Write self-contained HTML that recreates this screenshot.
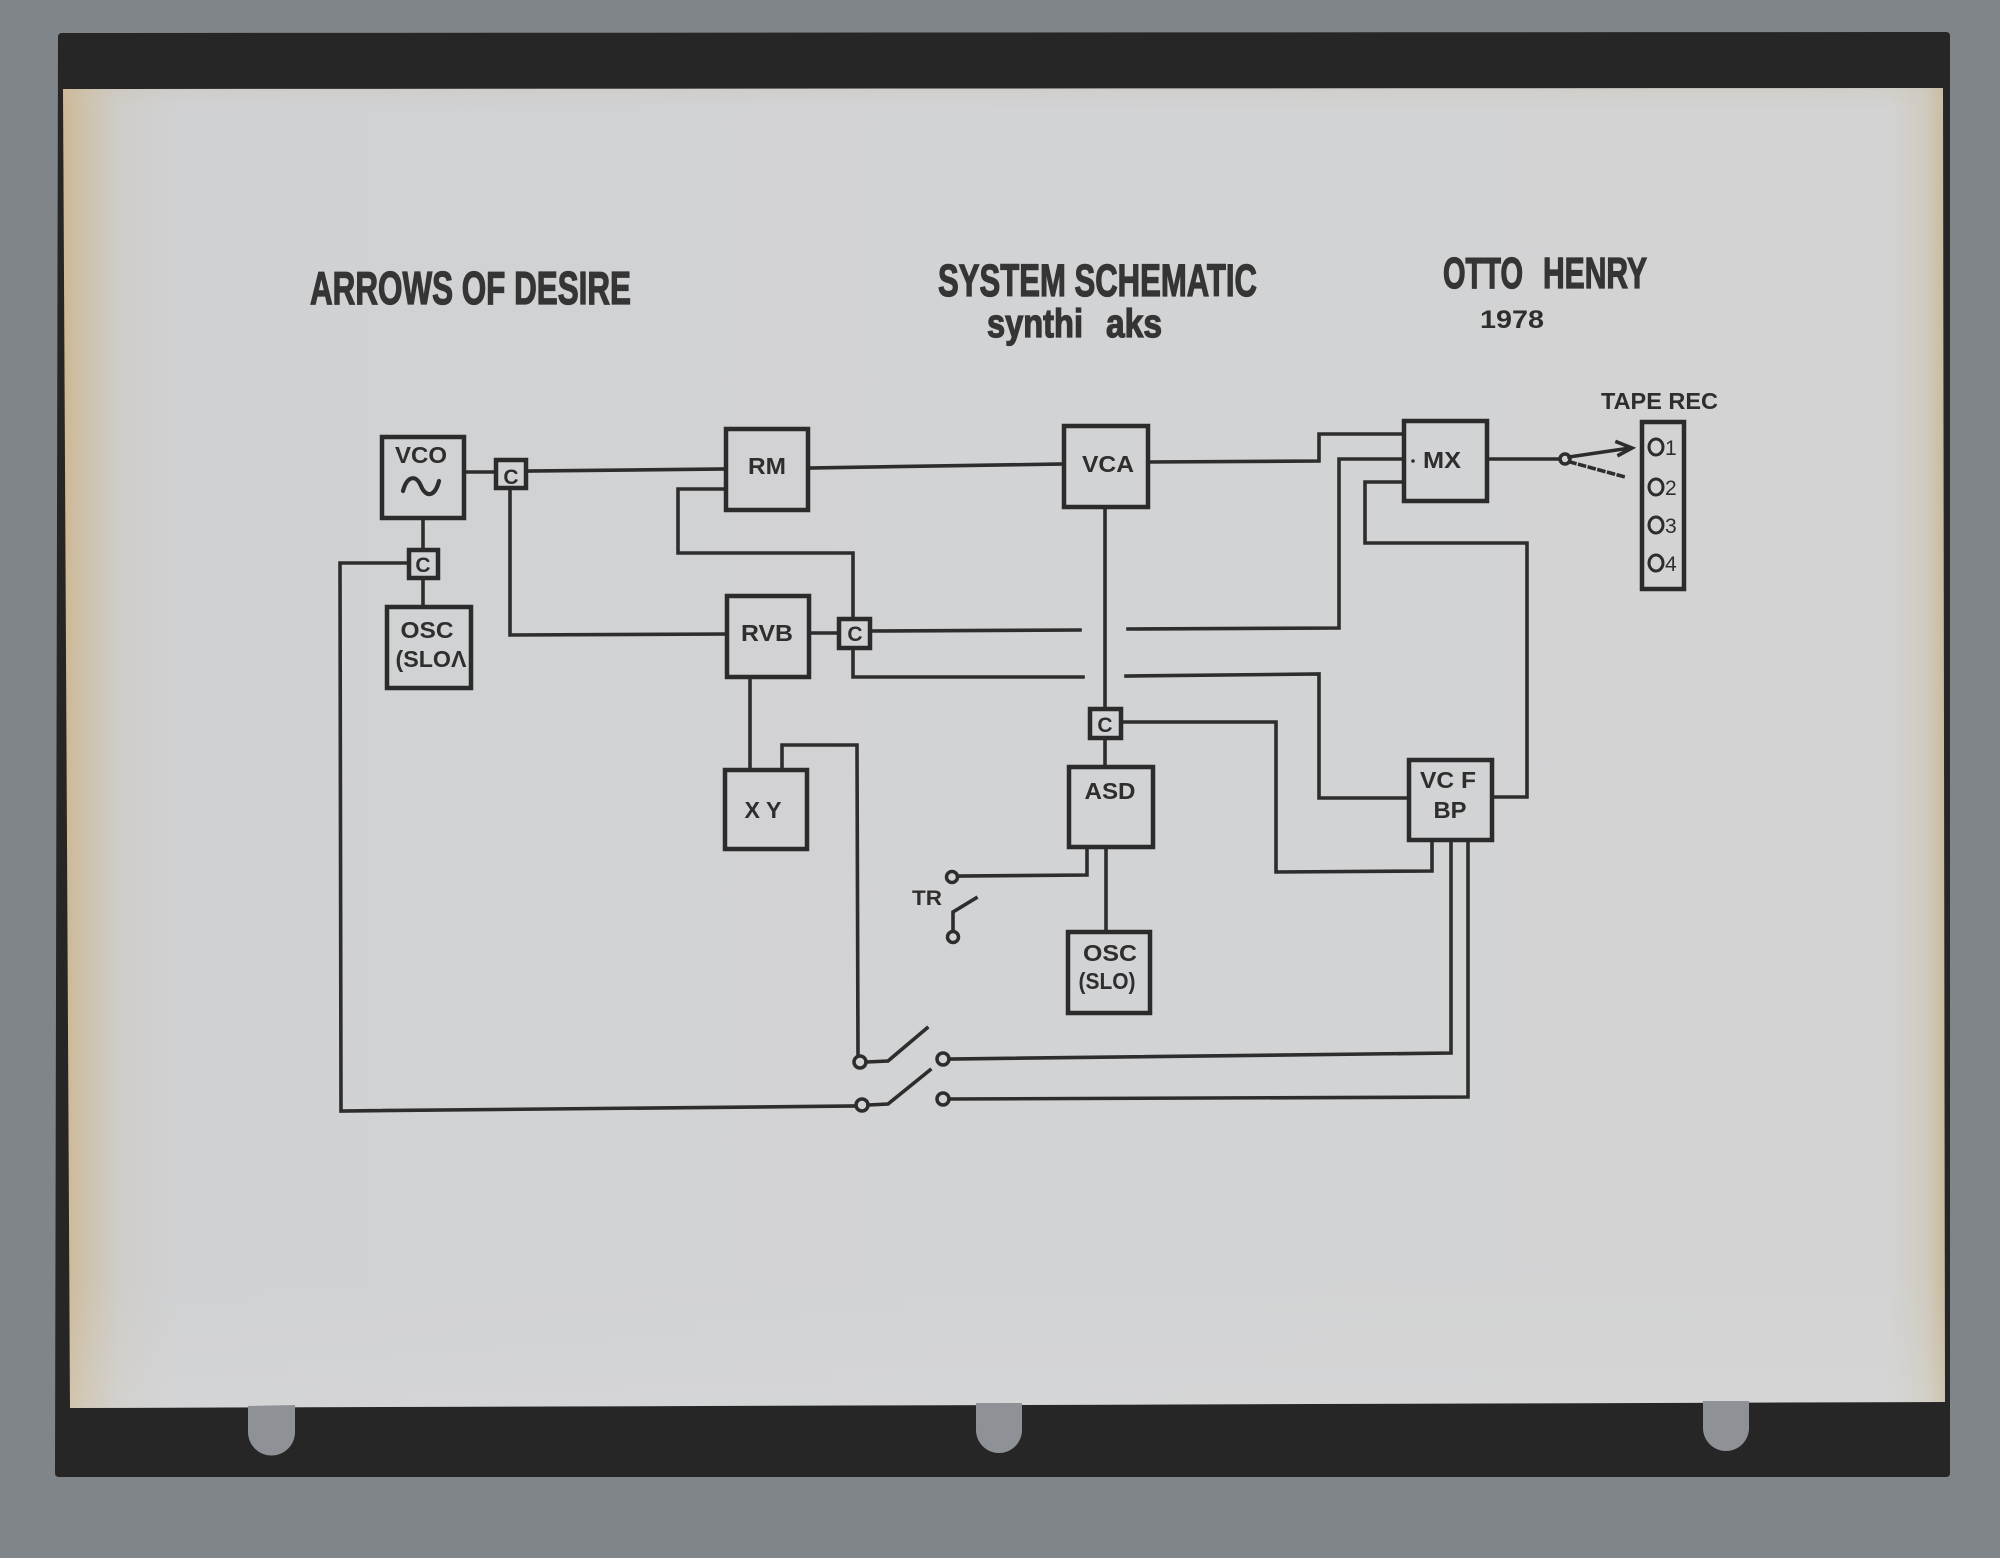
<!DOCTYPE html>
<html>
<head>
<meta charset="utf-8">
<style>
  html,body{margin:0;padding:0;background:#80858a;}
  body{width:2000px;height:1558px;overflow:hidden;}
  svg{display:block;}
  .w{fill:none;stroke:#2d2d2d;stroke-width:3.6;stroke-linecap:square;stroke-linejoin:miter;}
  .b{fill:none;stroke:#2b2b2b;stroke-width:4.5;}
  .lbl{font-family:"Liberation Sans",Arial,sans-serif;font-weight:bold;fill:#2e2e2e;}
  .ttl{font-family:"Liberation Sans",Arial,sans-serif;font-weight:bold;fill:#353535;stroke:#353535;stroke-width:1.3;}
</style>
</head>
<body>
<svg width="2000" height="1558" viewBox="0 0 2000 1558" xmlns="http://www.w3.org/2000/svg">
  <defs>
    <linearGradient id="pg" x1="0" y1="0" x2="1" y2="0">
      <stop offset="0" stop-color="#cdb793"/>
      <stop offset="0.012" stop-color="#cec2ac"/>
      <stop offset="0.03" stop-color="#cfcdc9"/>
      <stop offset="0.06" stop-color="#d0d1d3"/>
      <stop offset="0.5" stop-color="#d2d3d5"/>
      <stop offset="0.97" stop-color="#d3d3d3"/>
      <stop offset="0.99" stop-color="#d0cbc0"/>
      <stop offset="1" stop-color="#c9bb9c"/>
    </linearGradient>
    <linearGradient id="pv" x1="0" y1="0" x2="0" y2="1">
      <stop offset="0" stop-color="#c9bda6" stop-opacity="0.25"/>
      <stop offset="0.02" stop-color="#d0d0d0" stop-opacity="0"/>
      <stop offset="0.9" stop-color="#d8d8d8" stop-opacity="0"/>
      <stop offset="1" stop-color="#dcdcdc" stop-opacity="0.3"/>
    </linearGradient>
  </defs>

  <rect x="0" y="0" width="2000" height="1558" fill="#80858a"/>
  <path d="M62,33 L1946,32 Q1950,32 1950,36 L1950,1473 Q1950,1477 1946,1477 L59,1477 Q55,1477 55,1473 L58,37 Q58,33 62,33 Z" fill="#262626"/>
  <polygon points="63,89 1943,88 1945,1402 70,1408" fill="url(#pg)"/>
  <polygon points="63,89 1943,88 1945,1402 70,1408" fill="url(#pv)"/>
  <path d="M248,1406 L295,1405 L295,1432 A23.5,23.5 0 0 1 248,1432 Z" fill="#8e9296"/>
  <path d="M976,1403 L1022,1403 L1022,1430 A23,23 0 0 1 976,1430 Z" fill="#8e9296"/>
  <path d="M1703,1401 L1749,1401 L1749,1428 A23,23 0 0 1 1703,1428 Z" fill="#8e9296"/>

  <!-- Titles -->
  <text class="ttl" x="310" y="304" font-size="46" textLength="321" lengthAdjust="spacingAndGlyphs">ARROWS OF DESIRE</text>
  <text class="ttl" x="938" y="296" font-size="45" textLength="319" lengthAdjust="spacingAndGlyphs">SYSTEM SCHEMATIC</text>
  <text class="ttl" x="987" y="337" font-size="40" textLength="96" lengthAdjust="spacingAndGlyphs">synthi</text>
  <text class="ttl" x="1106" y="337" font-size="40" textLength="56" lengthAdjust="spacingAndGlyphs">aks</text>
  <text class="ttl" x="1443" y="288" font-size="44" textLength="80" lengthAdjust="spacingAndGlyphs">OTTO</text>
  <text class="ttl" x="1543" y="288" font-size="44" textLength="104" lengthAdjust="spacingAndGlyphs">HENRY</text>
  <text class="lbl" x="1480" y="328" font-size="25" textLength="64" lengthAdjust="spacingAndGlyphs" fill="#333">1978</text>
  <text class="lbl" x="1601" y="409" font-size="23" textLength="117" lengthAdjust="spacingAndGlyphs">TAPE REC</text>

  <g class="w">
    <line x1="464" y1="472" x2="496" y2="472"/>
    <line x1="526" y1="471" x2="726" y2="469"/>
    <polyline points="510,488 510,635 727,634"/>
    <line x1="423" y1="518" x2="423" y2="550"/>
    <line x1="423" y1="578" x2="423" y2="607"/>
    <polyline points="409,563 340,563 341,1111 856,1106"/>
    <polyline points="726,489 678,489 678,553 853,553 853,619"/>
    <line x1="808" y1="468" x2="1064" y2="464"/>
    <line x1="809" y1="633" x2="839" y2="633"/>
    <line x1="870" y1="631" x2="1080" y2="630"/>
    <polyline points="1128,629 1339,628 1339,459 1404,459"/>
    <polyline points="853,648 853,677 1083,677"/>
    <polyline points="1126,676 1319,674 1319,798 1409,798"/>
    <line x1="1105" y1="507" x2="1105" y2="709"/>
    <polyline points="1148,462 1319,461 1319,434 1404,434"/>
    <polyline points="1404,482 1365,482 1365,543 1527,543 1527,797 1492,797"/>
    <polyline points="1121,722 1276,722 1276,872 1432,871 1432,840"/>
    <line x1="1105" y1="738" x2="1105" y2="767"/>
    <line x1="1106" y1="847" x2="1106" y2="932"/>
    <polyline points="1087,847 1087,875 958,876"/>
    <polyline points="953,931 953,912 976,898"/>
    <line x1="750" y1="677" x2="750" y2="770"/>
    <polyline points="782,770 782,745 857,745 858,1056"/>
    <polyline points="866,1062 888,1061 927,1028"/>
    <polyline points="949,1059 1451,1053 1451,840"/>
    <polyline points="868,1105 888,1104 930,1070"/>
    <polyline points="949,1099 1468,1097 1468,840"/>
    <line x1="1487" y1="459" x2="1560" y2="459"/>
    <line x1="1569" y1="457" x2="1630" y2="448"/>
    <polyline points="1617,442 1632,448 1619,455"/>
    <line x1="1570" y1="462" x2="1625" y2="477" stroke-dasharray="5,5"/>
  </g>

  <g fill="none" stroke="#2d2d2d" stroke-width="3.5">
    <circle cx="1565" cy="459" r="5"/>
    <circle cx="952" cy="877" r="5.5"/>
    <circle cx="953" cy="937" r="5.5"/>
    <circle cx="860" cy="1062" r="6"/>
    <circle cx="943" cy="1059" r="6"/>
    <circle cx="862" cy="1105" r="6"/>
    <circle cx="943" cy="1099" r="6"/>
  </g>

  <g class="b">
    <rect x="382" y="437" width="82" height="81"/>
    <rect x="496" y="460" width="30" height="28"/>
    <rect x="409" y="550" width="29" height="28"/>
    <rect x="387" y="607" width="84" height="81"/>
    <rect x="726" y="429" width="82" height="81"/>
    <rect x="727" y="596" width="82" height="81"/>
    <rect x="839" y="619" width="31" height="29"/>
    <rect x="1064" y="426" width="84" height="81"/>
    <rect x="1090" y="709" width="31" height="29"/>
    <rect x="1069" y="767" width="84" height="80"/>
    <rect x="725" y="770" width="82" height="79"/>
    <rect x="1068" y="932" width="82" height="81"/>
    <rect x="1404" y="421" width="83" height="80"/>
    <rect x="1409" y="760" width="83" height="80"/>
    <rect x="1642" y="422" width="42" height="167"/>
  </g>

  <path d="M403,491 C407,476 416,474 421,486 C426,498 435,497 439,481" fill="none" stroke="#2d2d2d" stroke-width="4.2" stroke-linecap="round"/>

  <g fill="none" stroke="#2d2d2d" stroke-width="3">
    <ellipse cx="1656" cy="447" rx="7" ry="8"/>
    <ellipse cx="1656" cy="487" rx="7" ry="8"/>
    <ellipse cx="1656" cy="525" rx="7" ry="8"/>
    <ellipse cx="1656" cy="563" rx="7" ry="8"/>
  </g>
  <g font-family="Liberation Sans, Arial, sans-serif" font-size="21" fill="#2e2e2e">
    <text x="1665" y="455">1</text>
    <text x="1665" y="495">2</text>
    <text x="1665" y="533">3</text>
    <text x="1665" y="571">4</text>
  </g>

  <g class="lbl" font-size="23" text-anchor="middle">
    <text x="421" y="463" textLength="52" lengthAdjust="spacingAndGlyphs">VCO</text>
    <text x="767" y="474" textLength="38" lengthAdjust="spacingAndGlyphs">RM</text>
    <text x="1108" y="472" textLength="52" lengthAdjust="spacingAndGlyphs">VCA</text>
    <text x="767" y="641" textLength="52" lengthAdjust="spacingAndGlyphs">RVB</text>
    <text x="427" y="638" textLength="53" lengthAdjust="spacingAndGlyphs">OSC</text>
    <text x="431" y="667" textLength="71" lengthAdjust="spacingAndGlyphs">(SLOΛ</text>
    <text x="763" y="818" textLength="37" lengthAdjust="spacingAndGlyphs">X Y</text>
    <text x="1110" y="799" textLength="51" lengthAdjust="spacingAndGlyphs">ASD</text>
    <text x="1110" y="961" textLength="54" lengthAdjust="spacingAndGlyphs">OSC</text>
    <text x="1107" y="989" textLength="57" lengthAdjust="spacingAndGlyphs">(SLO)</text>
    <text x="1442" y="468" textLength="38" lengthAdjust="spacingAndGlyphs">MX</text>
    <text x="1448" y="788" textLength="56" lengthAdjust="spacingAndGlyphs">VC F</text>
    <text x="1450" y="818" textLength="33" lengthAdjust="spacingAndGlyphs">BP</text>
    <text x="927" y="905" font-size="21" textLength="30" lengthAdjust="spacingAndGlyphs">TR</text>
  </g>
  <circle cx="1413" cy="461" r="1.8" fill="#2e2e2e"/>
  <g class="lbl" font-size="21" text-anchor="middle">
    <text x="511" y="484">C</text>
    <text x="423" y="572">C</text>
    <text x="855" y="641">C</text>
    <text x="1105" y="732">C</text>
  </g>
</svg>
</body>
</html>
